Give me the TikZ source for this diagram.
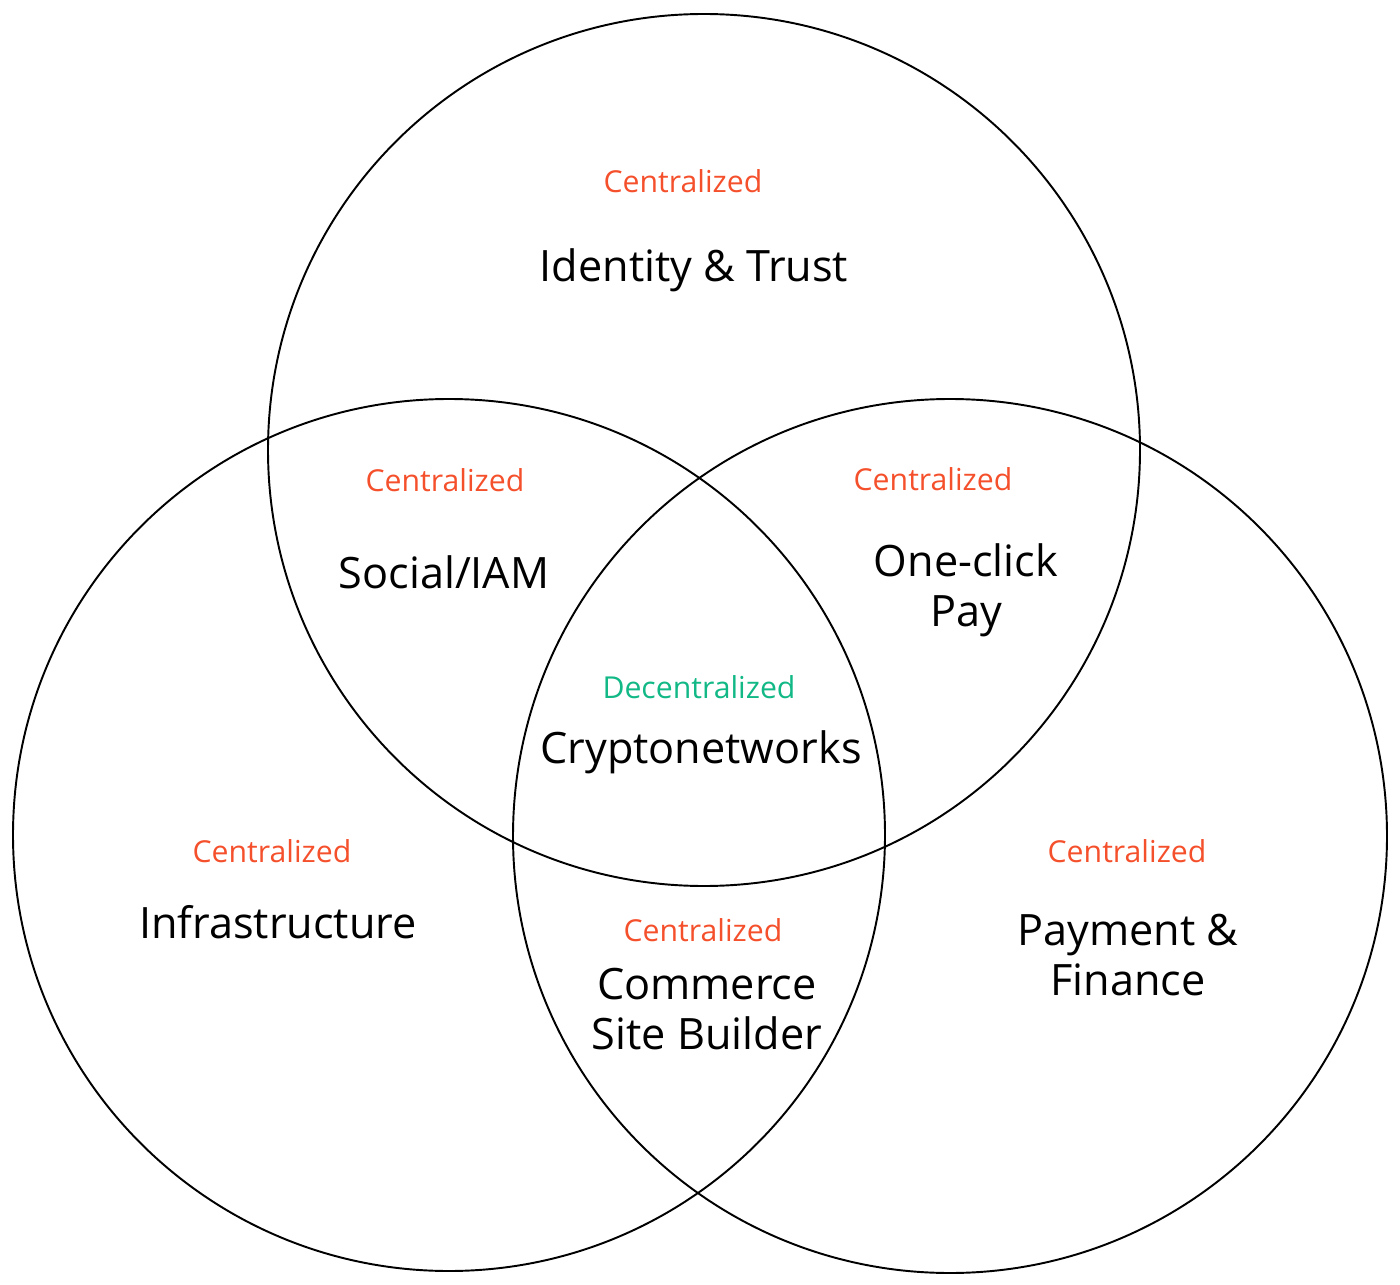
\documentclass[tikz,border=0pt]{standalone}
\usepackage{fontspec}
\setmainfont{Open Sans}
\definecolor{centred}{HTML}{F5502C}
\definecolor{decgreen}{HTML}{12B886}
\begin{document}
\begin{tikzpicture}[
    ring/.style={draw, line width=0.55pt},
    tag/.style={font=\fontsize{8.6}{10}\selectfont, text=centred},
    dtag/.style={font=\fontsize{8.6}{10}\selectfont, text=decgreen},
    area/.style={font=\fontsize{12.3}{14.3}\selectfont, align=center},
]
\useasboundingbox (0, 0) rectangle (14, -12.85);
% circles
\draw[ring] (7.04, -4.50) circle (4.36);
\draw[ring] (4.49, -8.35) circle (4.36);
\draw[ring] (9.50, -8.36) circle (4.37);
% top circle
\node[tag] (topc) at (6.83, -1.81) {Centralized};
\node[area] (top) at (6.94, -2.70) {Identity \& Trust};
% top/left
\node[tag] (tlc) at (4.45, -4.80) {Centralized};
\node[area] (tl) at (4.44, -5.72) {Social/IAM};
% top/right
\node[tag] (trc) at (9.33, -4.79) {Centralized};
\node[area] (tr) at (9.66, -5.90) {One-click\\Pay};
% centre
\node[dtag] (midc) at (6.99, -6.87) {Decentralized};
\node[area] (mid) at (7.01, -7.52) {Cryptonetworks};
% left circle
\node[tag] (lc) at (2.72, -8.51) {Centralized};
\node[area] (left) at (2.78, -9.22) {Infrastructure};
% left/right
\node[tag] (lrc) at (7.03, -9.30) {Centralized};
\node[area] (lr) at (7.07, -10.09) {Commerce\\Site Builder};
% right circle
\node[tag] (rc) at (11.27, -8.51) {Centralized};
\node[area] (right) at (11.28, -9.55) {Payment \&\\Finance};
\end{tikzpicture}
\end{document}
